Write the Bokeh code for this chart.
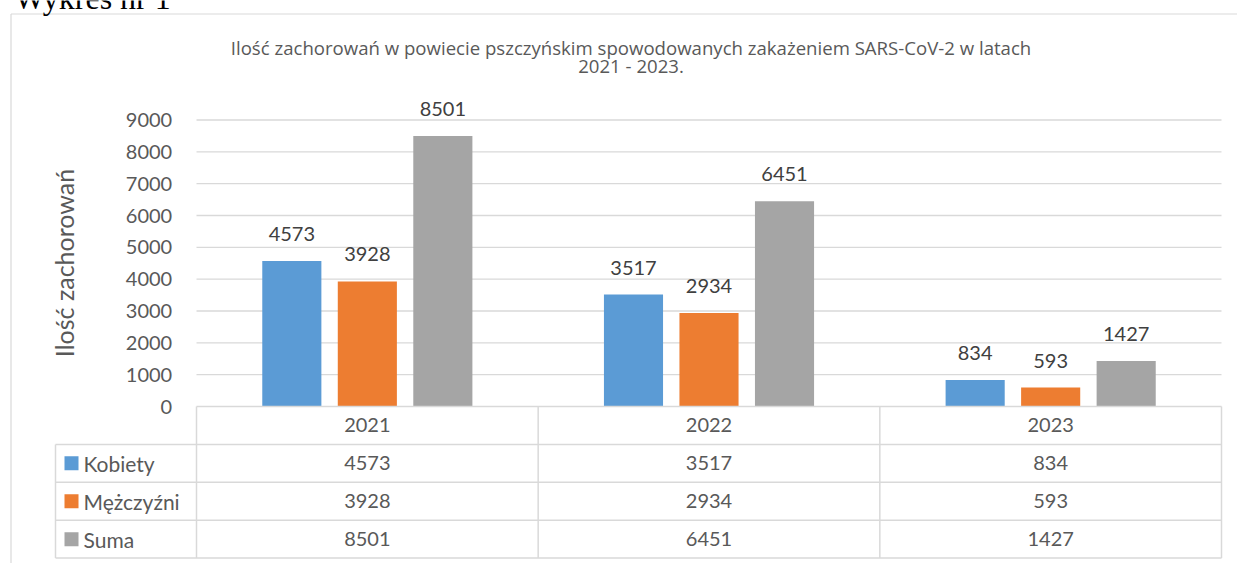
import numpy as np
from bokeh.plotting import figure
from bokeh.models import Range1d
from bokeh.core.properties import value
from bokeh.embed import file_html
from bokeh.resources import INLINE

# ---------------- data ----------------
years = ["2021", "2022", "2023"]
series = ["Kobiety", "Mężczyźni", "Suma"]
kobiety = [4573, 3517, 834]
mezczyzni = [3928, 2934, 593]
suma = [8501, 6451, 1427]
y_ticks = [0, 1000, 2000, 3000, 4000, 5000, 6000, 7000, 8000, 9000]
colors = ["#5B9BD5", "#ED7D31", "#A5A5A5"]
title_lines = ["Ilość zachorowań w powiecie pszczyńskim spowodowanych zakażeniem SARS-CoV-2 w latach",
               "2021 - 2023."]
y_label = "Ilość zachorowań"
caption = "Wykres nr 1"

values = [kobiety, mezczyzni, suma]

# ---------------- layout (pixels) ----------------
W, H = 1237, 563
PL, PR, PT, PB = 196.0, 1221.0, 119.5, 406.0
cat_px = (PR - PL) / len(years)
val_px = (PB - PT) / 9000.0
row_px = (557.6 - PB) / 4.0
legend_left = -(PL - 55.0) / cat_px
offsets = [-0.221, 0.0, 0.221]
bar_w = 0.173

FONT = value("Lato")
GRID = "#D9D9D9"
TXT = "#595959"

p = figure(width=W, height=H, output_backend="svg", toolbar_location=None,
           x_range=Range1d(-PL / cat_px, len(years) + (W - PR) / cat_px),
           y_range=Range1d(-(H - PB) / val_px, PB / val_px),
           min_border=0, x_axis_location=None, y_axis_location=None,
           outline_line_color=None, background_fill_color="white",
           border_fill_color="white")
p.grid.visible = False
p.extra_x_ranges = {"px": Range1d(0, W)}
p.extra_y_ranges = {"px": Range1d(H, 0), "tab": Range1d((H - PB) / row_px, -PB / row_px)}

# outer chart border
p.segment(x0=[10.5, 10.5], y0=[13.5, 13.5], x1=[W, 10.5], y1=[13.5, H],
          x_range_name="px", y_range_name="px", line_color=GRID, line_width=1.2)

# caption (partly above the page top, as in the reference)
p.text(x=[14], y=[-3], text=[caption], x_range_name="px", y_range_name="px",
       text_font=value("Liberation Serif"), text_font_size="32px", text_color="black",
       text_align="left", text_baseline="alphabetic")

# title
p.text(x=[630.5, 630.5], y=[47, 65], text=title_lines, x_range_name="px", y_range_name="px",
       text_font=value("Open Sans"), text_font_size="18.6px", text_color=TXT,
       text_align="center", text_baseline="middle")

# y axis label
p.text(x=[63], y=[262.5], text=[y_label], angle=np.pi / 2, x_range_name="px", y_range_name="px",
       text_font=FONT, text_font_size="25px", text_color=TXT,
       text_align="center", text_baseline="middle")

# gridlines
gt = [t for t in y_ticks if t > 0]
p.segment(x0=[0] * len(gt), x1=[len(years)] * len(gt), y0=gt, y1=gt,
          line_color=GRID, line_width=1.3)

# y tick labels
p.text(x=[0] * len(y_ticks), y=y_ticks, text=[str(t) for t in y_ticks], x_offset=-24.3,
       text_font=FONT, text_font_size="20px", text_color=TXT,
       text_align="right", text_baseline="middle")

# bars + data labels
for j, (vals, col) in enumerate(zip(values, colors)):
    xs = [i + 0.5 + offsets[j] for i in range(len(years))]
    p.vbar(x=xs, top=vals, bottom=0, width=bar_w, fill_color=col, line_color=None)
    p.text(x=xs, y=vals, text=[str(v) for v in vals], y_offset=-27,
           text_font=FONT, text_font_size="20px", text_color="#404040",
           text_align="center", text_baseline="alphabetic")

# ---------------- data table ----------------
n = len(years)
hx0 = [0] + [legend_left] * 4
hx1 = [n] * 5
hy = [0, 1, 2, 3, 4]
p.segment(x0=hx0, x1=hx1, y0=hy, y1=hy, y_range_name="tab", line_color=GRID, line_width=1.5)
vx = [legend_left] + list(range(n + 1))
vy0 = [1] + [0] * (n + 1)
vy1 = [4] * (n + 2)
p.segment(x0=vx, x1=vx, y0=vy0, y1=vy1, y_range_name="tab", line_color=GRID, line_width=1.5)

p.text(x=[i + 0.5 for i in range(n)], y=[0.5] * n, text=years, y_range_name="tab",
       text_font=FONT, text_font_size="20px", text_color=TXT,
       text_align="center", text_baseline="middle")
for j, vals in enumerate(values):
    p.text(x=[i + 0.5 for i in range(n)], y=[j + 1.5] * n, text=[str(v) for v in vals],
           y_range_name="tab", text_font=FONT, text_font_size="20px", text_color=TXT,
           text_align="center", text_baseline="middle")
p.scatter(x=[71] * 3, y=[j + 1.5 for j in range(3)], marker="square", size=14,
          fill_color=colors, line_color=None, x_range_name="px", y_range_name="tab")
p.text(x=[83] * 3, y=[j + 1.5 for j in range(3)], text=series,
       x_range_name="px", y_range_name="tab",
       text_font=FONT, text_font_size="21px", text_color=TXT,
       text_align="left", text_baseline="middle")

open("out.html", "w").write(file_html(p, INLINE))
